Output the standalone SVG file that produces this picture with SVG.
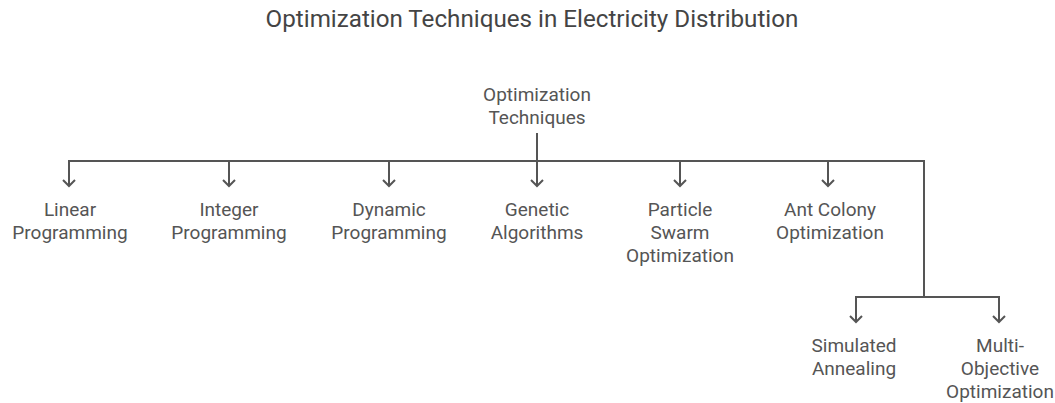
<svg xmlns="http://www.w3.org/2000/svg" width="1055" height="403" viewBox="0 0 1055 403">
  <style>
    .t { font-family: Roboto, "Liberation Sans", sans-serif; font-size: 19px; fill: #555555; text-anchor: middle; }
    .title { font-family: Roboto, "Liberation Sans", sans-serif; font-size: 24.2px; fill: #444444; text-anchor: middle; }
    .c { fill: none; stroke: #555555; stroke-width: 2; stroke-linejoin: miter; }
  </style>
  <defs>
    <marker id="arr" markerUnits="userSpaceOnUse" markerWidth="16" markerHeight="16" viewBox="-8 -8 16 16" refX="0" refY="0" orient="auto">
      <path d="M-6,-6 L0,0 L-6,6" fill="none" stroke="#555555" stroke-width="2" stroke-linejoin="miter"/>
    </marker>
  </defs>
  <rect width="1055" height="403" fill="#ffffff"/>
  <text class="title" x="532" y="27">Optimization Techniques in Electricity Distribution</text>

  <g id="connectors">
    <path class="c" d="M537,133 V161 H69 V186" marker-end="url(#arr)"/>
    <path class="c" d="M537,161 H229 V186" marker-end="url(#arr)"/>
    <path class="c" d="M537,161 H389 V186" marker-end="url(#arr)"/>
    <path class="c" d="M537,161 V186" marker-end="url(#arr)"/>
    <path class="c" d="M537,161 H680 V186" marker-end="url(#arr)"/>
    <path class="c" d="M537,161 H828 V186" marker-end="url(#arr)"/>
    <path class="c" d="M537,161 H924 V297 H856 V322" marker-end="url(#arr)"/>
    <path class="c" d="M924,297 H999 V322" marker-end="url(#arr)"/>
  </g>

  <g id="root">
    <text class="t" x="537" y="101">Optimization</text>
    <text class="t" x="537" y="124">Techniques</text>
  </g>
  <g id="linear">
    <text class="t" x="70" y="216">Linear</text>
    <text class="t" x="70" y="239">Programming</text>
  </g>
  <g id="integer">
    <text class="t" x="229" y="216">Integer</text>
    <text class="t" x="229" y="239">Programming</text>
  </g>
  <g id="dynamic">
    <text class="t" x="389" y="216">Dynamic</text>
    <text class="t" x="389" y="239">Programming</text>
  </g>
  <g id="genetic">
    <text class="t" x="537" y="216">Genetic</text>
    <text class="t" x="537" y="239">Algorithms</text>
  </g>
  <g id="particle">
    <text class="t" x="680" y="216">Particle</text>
    <text class="t" x="680" y="239">Swarm</text>
    <text class="t" x="680" y="262">Optimization</text>
  </g>
  <g id="antcolony">
    <text class="t" x="830" y="216">Ant Colony</text>
    <text class="t" x="830" y="239">Optimization</text>
  </g>
  <g id="simulated">
    <text class="t" x="854" y="352">Simulated</text>
    <text class="t" x="854" y="375">Annealing</text>
  </g>
  <g id="multiobjective">
    <text class="t" x="1000" y="352">Multi-</text>
    <text class="t" x="1000" y="375">Objective</text>
    <text class="t" x="1000" y="398">Optimization</text>
  </g>
</svg>
